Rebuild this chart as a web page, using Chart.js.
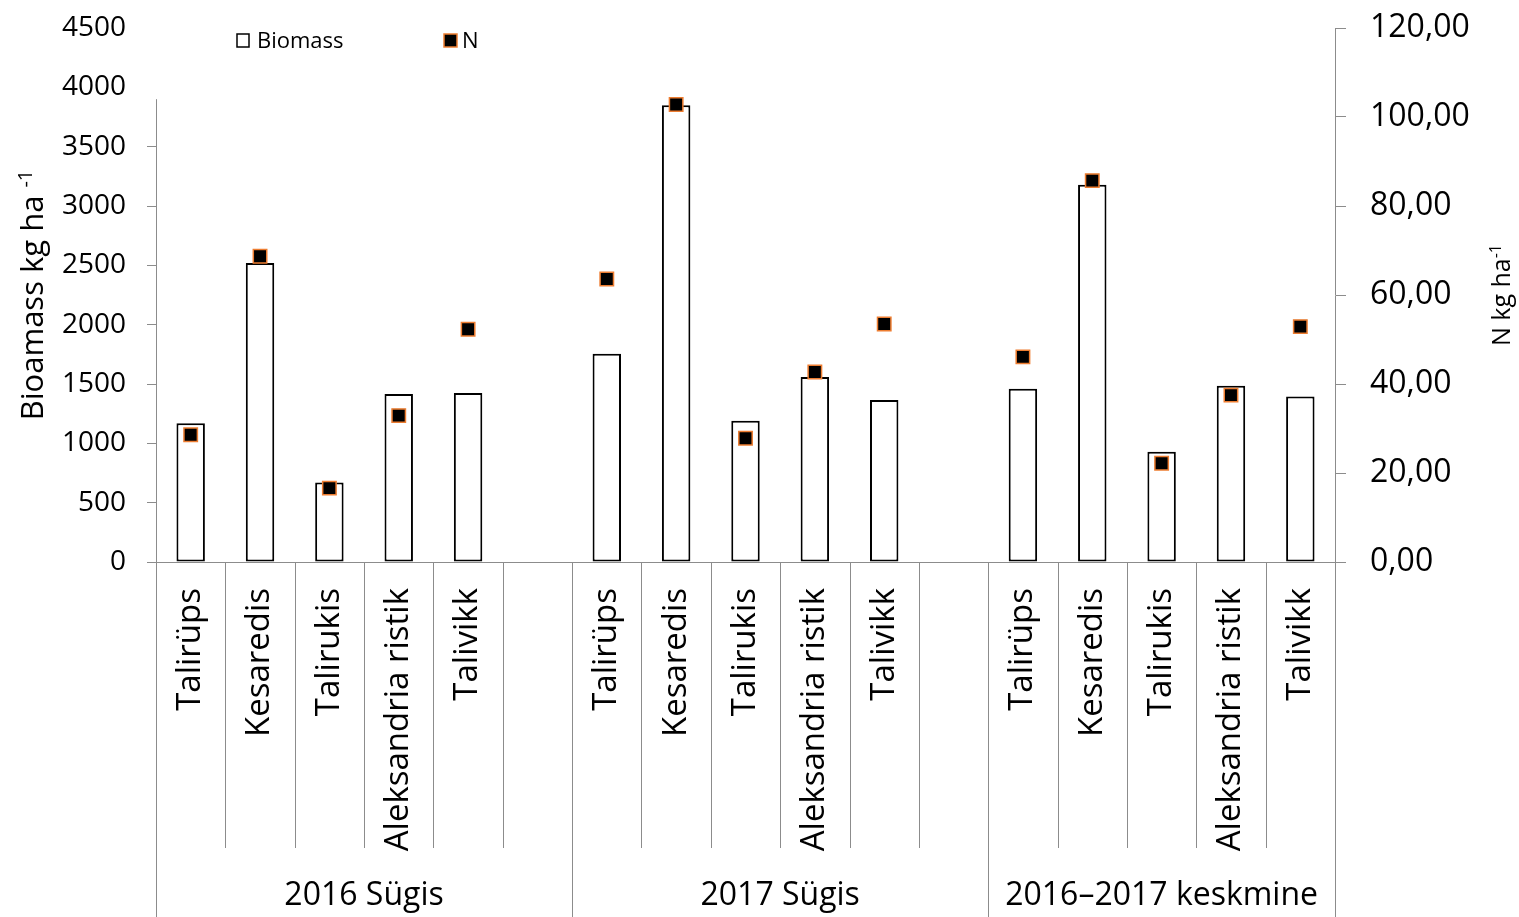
<!DOCTYPE html>
<html>
<head>
<meta charset="utf-8">
<script src="https://cdn.jsdelivr.net/npm/chart.js@4.4.1/dist/chart.umd.min.js"></script>
<style>
  body { margin: 0; background: #fff; }
  #wrap { width: 1519px; height: 917px; }
</style>
</head>
<body>
<div id="wrap"><canvas id="chart"></canvas></div>
<script>
const crops = ['Talirüps', 'Kesaredis', 'Talirukis', 'Aleksandria ristik', 'Talivikk'];
const groups = ['2016 Sügis', '2017 Sügis', '2016–2017 keskmine'];
const groupSizes = [6, 6, 5];   // 5 crops + an empty gap slot

const biomass = [1170, 2520, 670, 1415, 1425, null,
                 1755, 3850, 1190, 1560, 1365, null,
                 1460, 3180, 930, 1485, 1395];
const nitrogen = [28.6, 68.7, 16.6, 32.9, 52.3, null,
                  63.6, 102.8, 27.8, 42.7, 53.5, null,
                  46.1, 85.7, 22.2, 37.5, 52.9];

const labels = [...crops, '', ...crops, '', ...crops];

const FONT = '"Open Sans", "Noto Sans", sans-serif';
const axisGrey = '#8c8c8c';
const orange = '#ED7D31';

function line(ctx, x1, y1, x2, y2) {
  ctx.beginPath();
  ctx.moveTo(x1, y1);
  ctx.lineTo(x2, y2);
  ctx.stroke();
}

// rotated axis title with a superscript tail
function sideTitle(ctx, bx, cy, main, sup, size, supSize, rise) {
  ctx.save();
  ctx.translate(bx, cy);
  ctx.rotate(-Math.PI / 2);
  ctx.fillStyle = '#000';
  ctx.textAlign = 'left';
  ctx.textBaseline = 'alphabetic';
  ctx.font = `${size}px ${FONT}`;
  const w1 = ctx.measureText(main).width;
  ctx.font = `${supSize}px ${FONT}`;
  const w2 = ctx.measureText(sup).width;
  const x0 = -(w1 + w2) / 2;
  ctx.font = `${size}px ${FONT}`;
  ctx.fillText(main, x0, 0);
  ctx.font = `${supSize}px ${FONT}`;
  ctx.fillText(sup, x0 + w1, -rise);
  ctx.restore();
}

const frame = {
  id: 'frame',
  afterDraw(chart) {
    const { ctx, chartArea: a, scales: { x, y } } = chart;
    const step = x.getPixelForValue(1) - x.getPixelForValue(0);
    ctx.save();
    ctx.strokeStyle = axisGrey;
    ctx.lineWidth = 1;

    // left axis line starts a little under the top
    const lx = Math.round(a.left) + 0.5;
    line(ctx, lx, y.getPixelForValue(3900), lx, a.bottom);

    // category separators, group edges run to the bottom
    const edges = [0];
    groupSizes.forEach(n => edges.push(edges[edges.length - 1] + n));
    for (let i = 0; i <= labels.length; i++) {
      const px = Math.round(x.getPixelForValue(i) - step / 2) + 0.5;
      const bottom = edges.includes(i) ? chart.height : a.bottom + 286;
      line(ctx, px, a.bottom, px, bottom);
    }

    // group captions
    ctx.fillStyle = '#000';
    ctx.font = `32px ${FONT}`;
    ctx.textAlign = 'center';
    ctx.textBaseline = 'alphabetic';
    groups.forEach((g, k) => {
      const l = x.getPixelForValue(edges[k]) - step / 2;
      const r = x.getPixelForValue(edges[k + 1]) - step / 2;
      ctx.fillText(g, (l + r) / 2, 905);
    });

    // legend
    ctx.font = `22px ${FONT}`;
    ctx.textAlign = 'left';
    ctx.lineWidth = 1.5;
    ctx.fillStyle = '#fff';
    ctx.strokeStyle = '#000';
    ctx.fillRect(237, 34, 12, 13);
    ctx.strokeRect(237, 34, 12, 13);
    ctx.fillStyle = '#000';
    ctx.fillText('Biomass', 257, 48);
    ctx.fillStyle = '#000';
    ctx.strokeStyle = orange;
    ctx.fillRect(444, 34, 13, 13);
    ctx.strokeRect(444, 34, 13, 13);
    ctx.fillStyle = '#000';
    ctx.fillText('N', 462, 48);

    const cy = (a.top + a.bottom) / 2;
    sideTitle(ctx, 43, cy, 'Bioamass kg ha ', '-1', 31, 20, 11);
    sideTitle(ctx, 1510, cy, 'N kg ha', '-1', 25, 16, 9);
    ctx.restore();
  }
};

// fixed axis widths, no extra room reserved for the end labels
function fitSide(width) {
  return s => {
    s.width = width;
    s.paddingTop = 0;
    s.paddingBottom = 0;
  };
}

new Chart(document.getElementById('chart'), {
  data: {
    labels: labels,
    datasets: [{
      type: 'line',
      label: 'N',
      data: nitrogen,
      yAxisID: 'y1',
      showLine: false,
      pointStyle: 'rect',
      pointRadius: 9.5,
      pointBorderWidth: 1.5,
      pointBackgroundColor: '#000',
      pointBorderColor: orange,
      order: 0
    }, {
      type: 'bar',
      label: 'Biomass',
      data: biomass,
      yAxisID: 'y',
      backgroundColor: '#fff',
      borderColor: '#000',
      borderWidth: 2,
      borderSkipped: false,
      categoryPercentage: 1,
      barPercentage: 0.41,
      order: 1
    }]
  },
  options: {
    responsive: true,
    maintainAspectRatio: false,
    animation: false,
    devicePixelRatio: 1,
    layout: { padding: { top: 28, left: 0, right: 0, bottom: 0 } },
    plugins: {
      legend: { display: false },
      tooltip: { enabled: false }
    },
    scales: {
      x: {
        offset: true,
        grid: { display: false },
        border: { display: true, color: axisGrey },
        ticks: {
          autoSkip: false,
          minRotation: 90,
          maxRotation: 90,
          padding: 18,
          color: '#000',
          font: { family: FONT, size: 33 }
        },
        afterFit(s) { s.height = 355; }
      },
      y: {
        position: 'left',
        min: 0,
        max: 4500,
        grid: {
          drawOnChartArea: false,
          tickLength: 9,
          color: ctx => ctx.tick && ctx.tick.value > 3500 ? 'rgba(0,0,0,0)' : axisGrey
        },
        border: { display: false },
        ticks: {
          stepSize: 500,
          padding: 21,
          color: '#000',
          font: { family: FONT, size: 28 },
          callback: v => String(v)
        },
        afterFit: fitSide(156)
      },
      y1: {
        position: 'right',
        min: 0,
        max: 120,
        grid: { drawOnChartArea: false, tickLength: 11, color: axisGrey },
        border: { display: true, color: axisGrey },
        ticks: {
          stepSize: 20,
          padding: 24,
          color: '#000',
          font: { family: FONT, size: 32 },
          callback: v => v.toFixed(2).replace('.', ',')
        },
        afterFit: fitSide(184)
      }
    }
  },
  plugins: [frame]
});
</script>
</body>
</html>
